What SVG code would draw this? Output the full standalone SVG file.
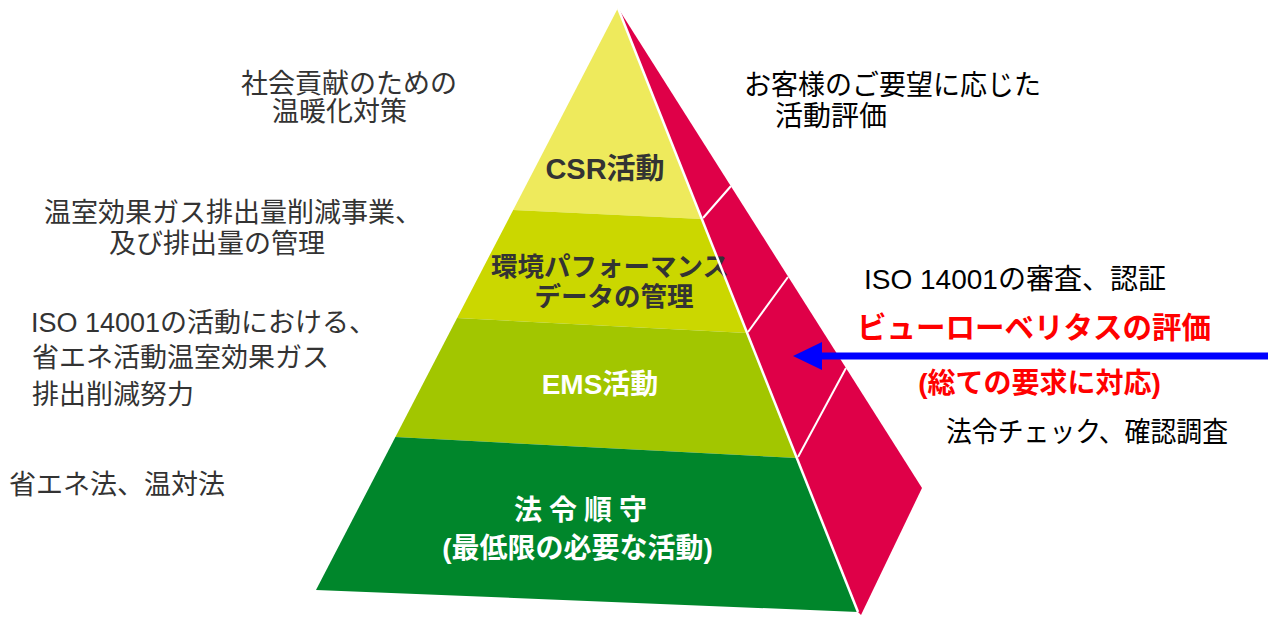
<svg xmlns="http://www.w3.org/2000/svg" width="1268" height="619" viewBox="0 0 1268 619">
  <style>
    text { font-family: "Liberation Sans", "Noto Sans CJK JP", sans-serif; }
    .note { font-size: 27px; fill: #333333; }
    .noteR { font-size: 28px; fill: #000000; }
    .lbl { font-weight: bold; fill: #333333; }
    .wlbl { font-weight: bold; fill: #ffffff; font-size: 28px; }
    .red { font-weight: bold; fill: #ff0000; }
    .div { stroke: #ffffff; stroke-width: 2; fill: none; }
  </style>
  <rect width="1268" height="619" fill="#ffffff"/>

  <g id="side-face">
    <polygon points="618,8 922,488 861,615 858,612" fill="#df0048"/>
    <line class="div" x1="703" y1="218" x2="731" y2="186"/>
    <line class="div" x1="748" y1="332" x2="788" y2="277"/>
    <line class="div" x1="798" y1="457" x2="846" y2="368"/>
  </g>

  <g id="band-csr">
    <polygon points="618,8 701.9,219 513.2,210" fill="#eeea5c"/>
    <text class="lbl" x="605" y="179" font-size="29" text-anchor="middle">CSR活動</text>
  </g>
  <g id="band-env">
    <polygon points="513.2,210 701.9,219 747.1,333 457.1,318" fill="#cbd700"/>
    <text class="lbl" x="610" y="275.5" font-size="26.5" text-anchor="middle">環境パフォーマンス</text>
    <text class="lbl" x="614" y="306" font-size="26.5" text-anchor="middle">データの管理</text>
  </g>
  <g id="band-ems">
    <polygon points="457.1,318 747.1,333 796.8,458 395.4,437" fill="#a2c600"/>
    <text class="wlbl" x="600" y="394" text-anchor="middle">EMS活動</text>
  </g>
  <g id="band-law">
    <polygon points="395.4,437 796.8,458 858,612 316,590" fill="#00862b"/>
    <text class="wlbl" x="514 549 584 619" y="520">法令順守</text>
    <text class="wlbl" x="577.5" y="558" text-anchor="middle">(最低限の必要な活動)</text>
  </g>

  <line x1="618" y1="8" x2="858" y2="612" stroke="#ffffff" stroke-width="2.5"/>

  <g id="notes-left">
    <text class="note" x="241" y="92.5">社会貢献のための</text>
    <text class="note" x="272" y="121">温暖化対策</text>
    <text class="note" x="44" y="221.5">温室効果ガス排出量削減事業、</text>
    <text class="note" x="109" y="253">及び排出量の管理</text>
    <text class="note" x="31" y="332">ISO 14001の活動における、</text>
    <text class="note" x="32" y="366.5">省エネ活動温室効果ガス</text>
    <text class="note" x="32" y="403.5">排出削減努力</text>
    <text class="note" x="9" y="493.5">省エネ法、温対法</text>
  </g>

  <g id="notes-right">
    <text class="noteR" x="744" y="95" textLength="297" lengthAdjust="spacingAndGlyphs">お客様のご要望に応じた</text>
    <text class="noteR" x="775" y="125.5">活動評価</text>
    <text class="noteR" x="864" y="289">ISO 14001の審査、認証</text>
    <text class="red" x="857" y="338" font-size="29.5">ビューローベリタスの評価</text>
    <text class="red" x="1039.5" y="393" font-size="28" text-anchor="middle">(総ての要求に対応)</text>
    <text class="noteR" x="946" y="441.5" textLength="282" lengthAdjust="spacingAndGlyphs">法令チェック、確認調査</text>
  </g>

  <g id="connectors">
    <line x1="1268" y1="356" x2="818" y2="356" stroke="#0000ff" stroke-width="7"/>
    <polygon points="793,356 822,342 822,370" fill="#0000ff"/>
  </g>
</svg>
